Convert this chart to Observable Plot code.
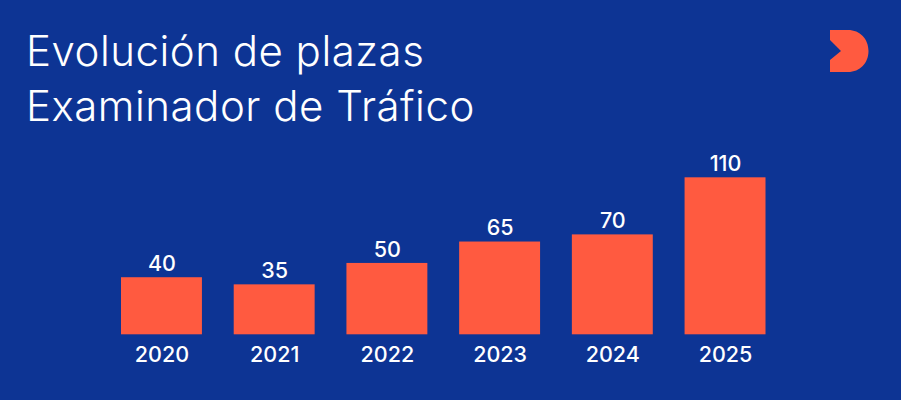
<!DOCTYPE html>
<html lang="es">
<head>
<meta charset="utf-8">
<script src="https://cdn.jsdelivr.net/npm/d3@7"></script>
<script src="https://cdn.jsdelivr.net/npm/@observablehq/plot@0.6"></script>
<style>
html,body{margin:0;padding:0;background:#0d3494;}
#wrap{position:relative;width:901px;height:400px;overflow:hidden;}
#title{position:absolute;left:26px;top:23px;margin:0;color:#fff;font:300 42px/55px Inter,sans-serif;letter-spacing:0.5px;}
#logo{position:absolute;left:0;top:0;}
svg{display:block;}
</style>
</head>
<body>
<div id="wrap">
<div id="chart"></div>
<h1 id="title">Evolución de plazas<br>Examinador de Tráfico</h1>
<svg id="logo" width="901" height="400" viewBox="0 0 901 400" aria-hidden="true"><path d="M830 30H848C860 30 868.500 39 868.500 51C868.500 63 860 72 848 72H830V60L841 51L830 40Z" fill="#ff5a40"/></svg>
</div>
<script>
const years = ["2020","2021","2022","2023","2024","2025"];
const plazas = [40,35,50,65,70,110];
const rows = years.map((year,i)=>({year,value:plazas[i]}));
const plot = Plot.plot({
  width:901,height:400,
  marginLeft:121,marginRight:135.5,marginTop:177.3,marginBottom:65.7,
  style:{background:"#0d3494",color:"#fff",fontFamily:"Inter, sans-serif",fontSize:"21px"},
  x:{domain:years,paddingInner:0.282,paddingOuter:0,round:false,label:null},
  y:{domain:[0,110],axis:null,label:null},
  marks:[
    Plot.axisX({tickSize:0,tickPadding:11.5,fontSize:21.5,fontWeight:500,fill:"#fff",label:null}),
    Plot.barY(rows,{x:"year",y:"value",fill:"#ff5a40"}),
    Plot.text(rows,{x:"year",y:"value",text:d=>String(d.value),dy:-13.5,fontSize:21.5,fontWeight:500,fill:"#fff"})
  ]
});
document.getElementById("chart").append(plot);
</script>
</body>
</html>
